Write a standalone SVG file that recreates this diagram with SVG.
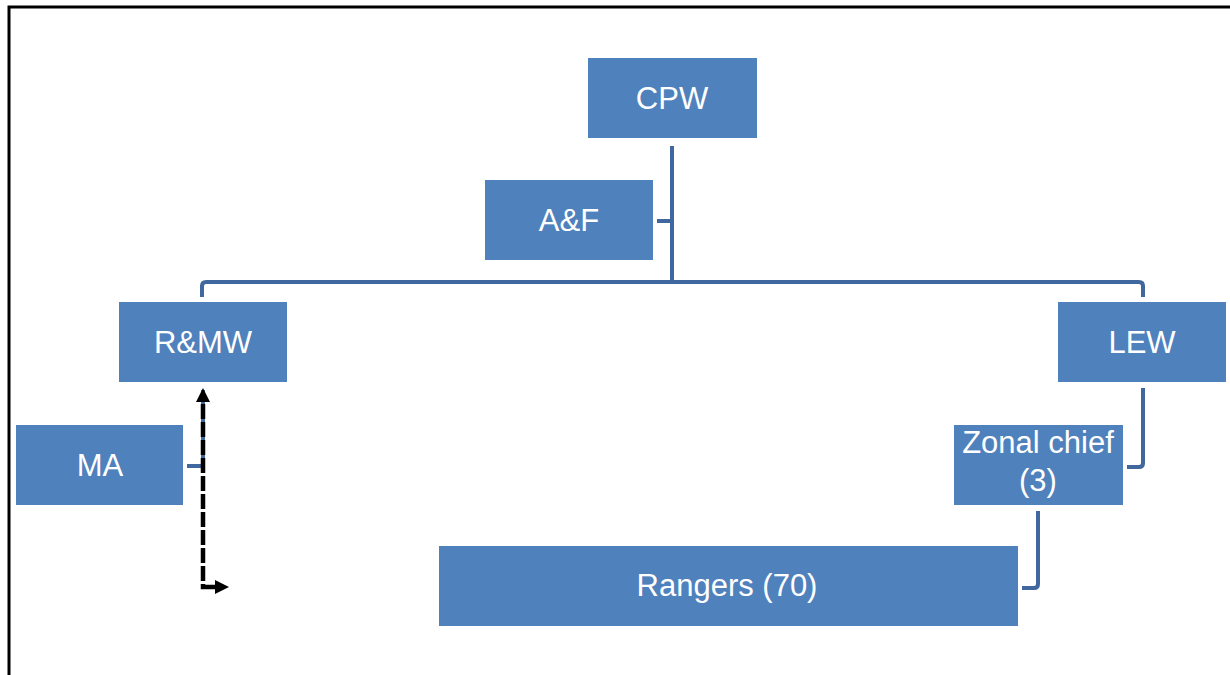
<svg xmlns="http://www.w3.org/2000/svg" width="1230" height="675" viewBox="0 0 1230 675">
  <style>
    .box { fill: #4F81BD; }
    .lbl { fill: #FFFFFF; font-family: "Liberation Sans", Arial, sans-serif; font-size: 31px; text-anchor: middle; }
    .conn { fill: none; stroke: #41689E; stroke-width: 4; }
    .dash { fill: none; stroke: #000000; stroke-width: 4.5; stroke-dasharray: 15 3; }
  </style>
  <defs>
    <marker id="tri" viewBox="0 0 10 10" refX="0" refY="5" markerUnits="userSpaceOnUse" markerWidth="14" markerHeight="15" orient="auto-start-reverse">
      <path d="M0,0 L10,5 L0,10 z" fill="#000000"/>
    </marker>
  </defs>

  <rect width="1230" height="675" fill="#FFFFFF"/>
  <!-- frame (top and left edges visible) -->
  <path d="M9,675 V7 H1230" fill="none" stroke="#000000" stroke-width="3"/>

  <g id="connectors">
    <path class="conn" d="M672,146 V282"/>
    <path class="conn" d="M657,221 H672"/>
    <path class="conn" d="M202,297 V286 Q202,282 206,282 H1139 Q1143,282 1143,286 V297"/>
    <path class="conn" d="M1143,388 V463 Q1143,467 1139,467 H1127"/>
    <path class="conn" d="M1038,511 V584 Q1038,588 1034,588 H1022"/>
    <path class="conn" d="M203,390 V466 H187"/>
    <path class="dash" d="M215,587 H203 V402" marker-start="url(#tri)" marker-end="url(#tri)"/>
  </g>

  <g id="node-cpw">
    <rect class="box" x="588" y="58" width="169" height="80"/>
    <text class="lbl" x="672" y="109">CPW</text>
  </g>
  <g id="node-af">
    <rect class="box" x="485" y="180" width="168" height="80"/>
    <text class="lbl" x="569" y="231">A&amp;F</text>
  </g>
  <g id="node-rmw">
    <rect class="box" x="119" y="302" width="168" height="80"/>
    <text class="lbl" x="203" y="353">R&amp;MW</text>
  </g>
  <g id="node-lew">
    <rect class="box" x="1058" y="302" width="168" height="80"/>
    <text class="lbl" x="1142" y="353">LEW</text>
  </g>
  <g id="node-ma">
    <rect class="box" x="16" y="425" width="167" height="80"/>
    <text class="lbl" x="100" y="476">MA</text>
  </g>
  <g id="node-zonal">
    <rect class="box" x="954" y="425" width="169" height="80"/>
    <text class="lbl" x="1038" y="453">Zonal chief</text>
    <text class="lbl" x="1038" y="491">(3)</text>
  </g>
  <g id="node-rangers">
    <rect class="box" x="439" y="546" width="579" height="80"/>
    <text class="lbl" x="727" y="596">Rangers (70)</text>
  </g>
</svg>
